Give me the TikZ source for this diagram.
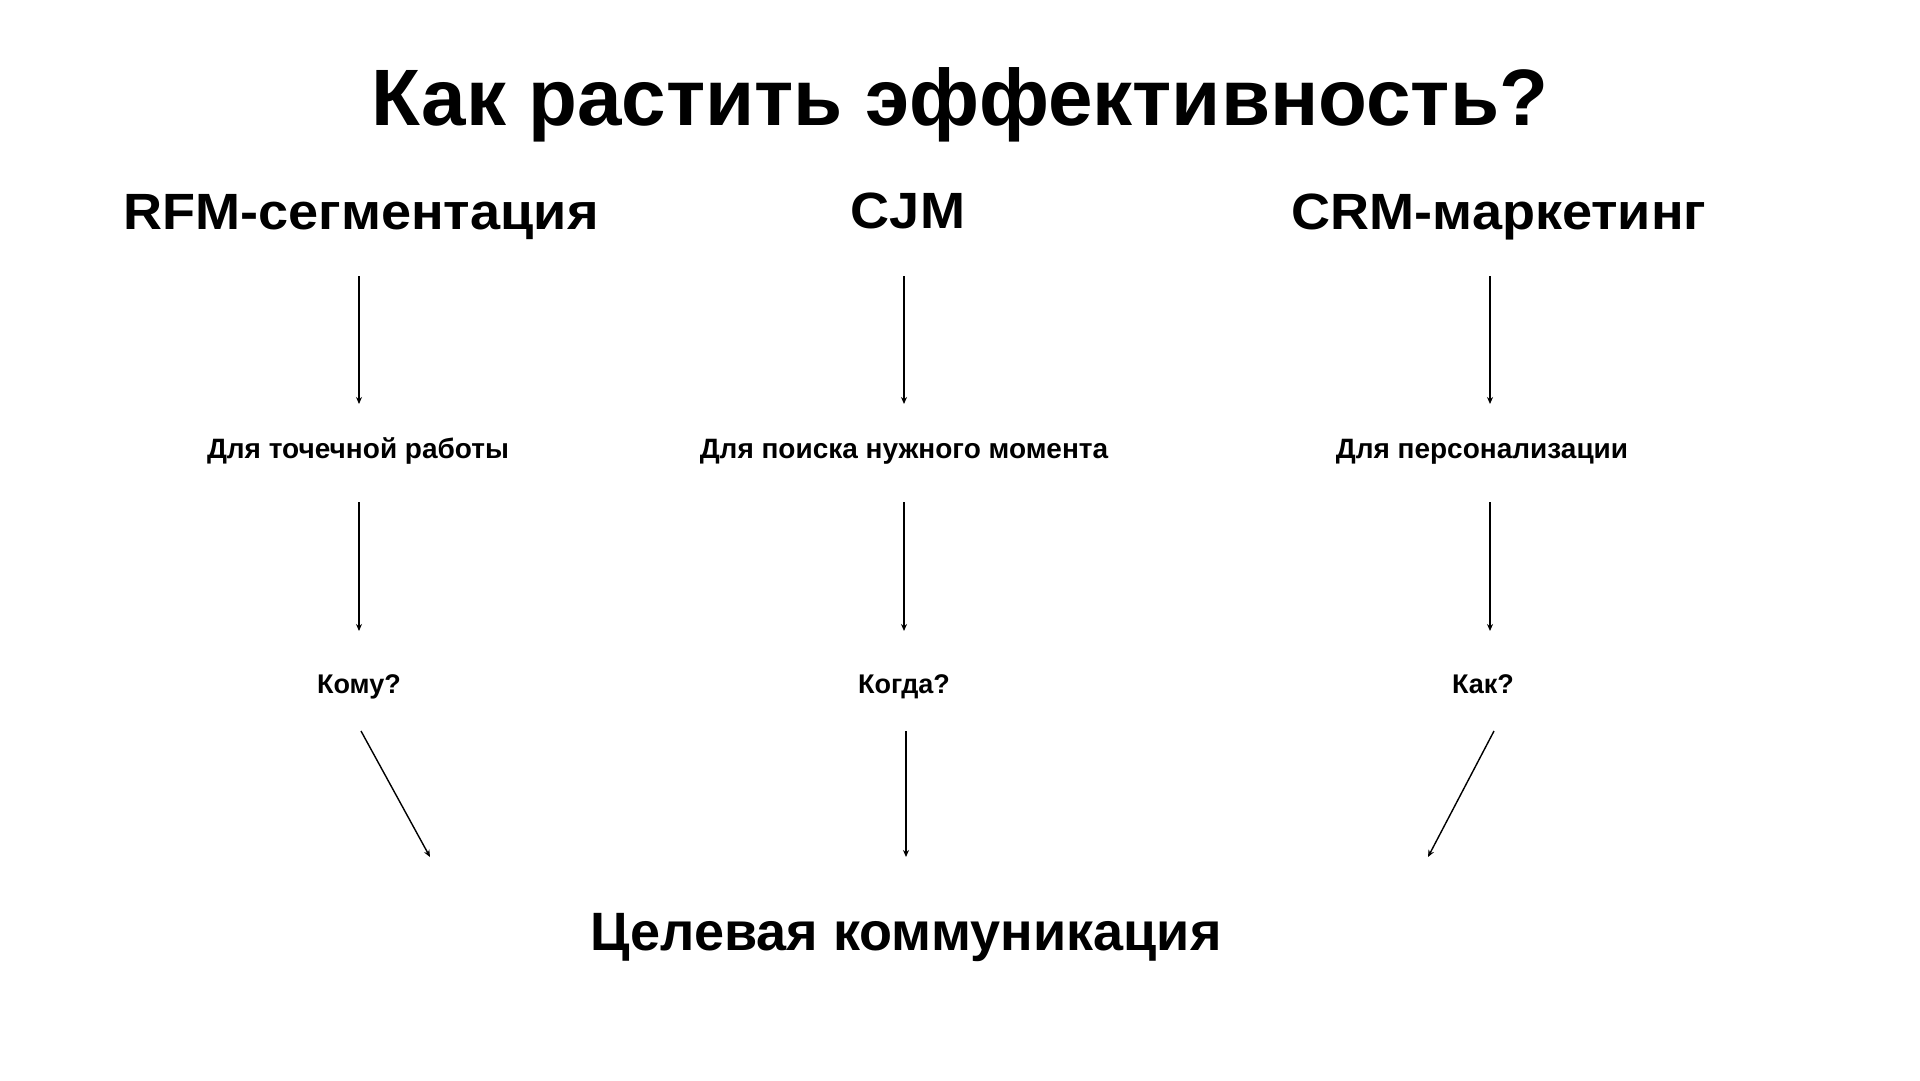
\documentclass[tikz,border=0pt]{standalone}
\usepackage{fontspec}
\setmainfont{Liberation Sans}
\usetikzlibrary{arrows.meta}
\begin{document}
\begin{tikzpicture}[x=1pt,y=-1pt,
  title/.style={font=\fontsize{80}{90}\selectfont\bfseries, inner sep=0pt, anchor=base},
  head/.style={font=\fontsize{51}{60}\selectfont\bfseries, inner sep=0pt, anchor=base, xscale=1.06},
  mid/.style={font=\fontsize{28}{32}\selectfont\bfseries, inner sep=0pt, anchor=base},
  ques/.style={font=\fontsize{27}{32}\selectfont\bfseries, inner sep=0pt, anchor=base},
  bottom/.style={font=\fontsize{54}{62}\selectfont\bfseries, inner sep=0pt, anchor=base},
  arr/.style={line width=1.4pt, -{Stealth[length=7pt,width=6pt]}}]
\useasboundingbox[fill=white] (0,0) rectangle (1920,1080);
\node[title] (t) at (960,125) {Как растить эффективность?};
\node[head] (h1) at (361,229) {RFM-сегментация};
\node[head] (h2) at (908,228) {CJM};
\node[head] (h3) at (1499,229) {CRM-маркетинг};
\node[mid] (m1) at (358,458) {Для точечной работы};
\node[mid] (m2) at (904,458) {Для поиска нужного момента};
\node[mid] (m3) at (1482,458) {Для персонализации};
\node[ques] (q1) at (359,693) {Кому?};
\node[ques] (q2) at (904,693) {Когда?};
\node[ques] (q3) at (1483,693) {Как?};
\node[bottom] (b) at (906,950) {Целевая коммуникация};
% arrow endpoints
\coordinate (a1s) at (359,276); \coordinate (a1e) at (359,404);
\coordinate (a2s) at (904,276); \coordinate (a2e) at (904,404);
\coordinate (a3s) at (1490,276); \coordinate (a3e) at (1490,404);
\coordinate (b1s) at (359,502); \coordinate (b1e) at (359,631);
\coordinate (b2s) at (904,502); \coordinate (b2e) at (904,631);
\coordinate (b3s) at (1490,502); \coordinate (b3e) at (1490,631);
\coordinate (c1s) at (361,731); \coordinate (c1e) at (430,857);
\coordinate (c2s) at (906,731); \coordinate (c2e) at (906,857);
\coordinate (c3s) at (1494,731); \coordinate (c3e) at (1428,857);
\foreach \p in {a1,a2,a3,b1,b2,b3,c1,c2,c3} {\draw[arr] (\p s) -- (\p e);}
\end{tikzpicture}
\end{document}
